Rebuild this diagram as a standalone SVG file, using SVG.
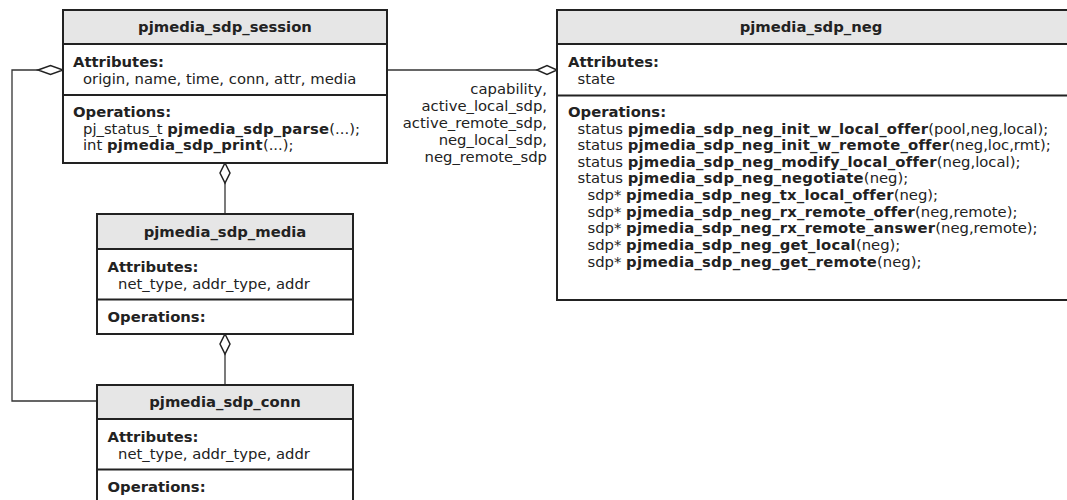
<svg xmlns="http://www.w3.org/2000/svg" width="1067" height="500" viewBox="0 0 1067 500">
<style>
text{font-family:"DejaVu Sans",Verdana,sans-serif;font-size:14.8px;fill:#222}
.b{font-weight:bold}
tspan.b{letter-spacing:0.22px}
.t{font-weight:bold;text-anchor:middle}
.box{fill:#fff;stroke:#222;stroke-width:2}
.hdr{fill:#e6e6e6;stroke:#222;stroke-width:2}
.sep{stroke:#222;stroke-width:2}
.conn{fill:none;stroke:#333;stroke-width:1.3}
.dia{fill:#fff;stroke:#222;stroke-width:1.5}
.lbl{text-anchor:end}
</style>
<rect width="1067" height="500" fill="#fff"/>
<g id="connectors">
  <polyline class="conn" points="38,70 12,70 12,401 97,401"/>
  <polygon class="dia" points="38,70 50.5,65.5 63,70 50.5,74.5"/>
  <line class="conn" x1="387" y1="70" x2="537" y2="70"/>
  <polygon class="dia" points="537,70 547,65.5 557,70 547,74.5"/>
  <line class="conn" x1="225" y1="183" x2="225" y2="214"/>
  <polygon class="dia" points="225,163 230,173 225,183 220,173"/>
  <line class="conn" x1="225" y1="354" x2="225" y2="385"/>
  <polygon class="dia" points="225,334 230,344 225,354 220,344"/>
  <text class="lbl" x="547" y="94">capability,</text>
  <text class="lbl" x="547" y="111">active_local_sdp,</text>
  <text class="lbl" x="547" y="128">active_remote_sdp,</text>
  <text class="lbl" x="547" y="145">neg_local_sdp,</text>
  <text class="lbl" x="547" y="162">neg_remote_sdp</text>
</g>
<g id="pjmedia_sdp_session">
  <rect class="box" x="63" y="10" width="324" height="153"/>
  <rect class="hdr" x="63" y="10" width="324" height="34"/>
  <line class="sep" x1="63" y1="95" x2="387" y2="95"/>
  <text class="t" x="225" y="32">pjmedia_sdp_session</text>
  <text class="b" x="73" y="67">Attributes:</text>
  <text x="83" y="83.5">origin, name, time, conn, attr, media</text>
  <text class="b" x="73" y="117">Operations:</text>
  <text x="83" y="133.5">pj_status_t <tspan class="b">pjmedia_sdp_parse</tspan>(...);</text>
  <text x="83" y="150">int <tspan class="b">pjmedia_sdp_print</tspan>(...);</text>
</g>
<g id="pjmedia_sdp_neg">
  <rect class="box" x="557" y="10" width="520" height="290"/>
  <rect class="hdr" x="557" y="10" width="520" height="34"/>
  <line class="sep" x1="557" y1="95.5" x2="1077" y2="95.5"/>
  <text class="t" x="811" y="32">pjmedia_sdp_neg</text>
  <text class="b" x="568" y="67">Attributes:</text>
  <text x="577.5" y="83.5">state</text>
  <text class="b" x="568" y="117">Operations:</text>
  <text x="577.5" y="133.5">status <tspan class="b">pjmedia_sdp_neg_init_w_local_offer</tspan>(pool,neg,local);</text>
  <text x="577.5" y="150">status <tspan class="b">pjmedia_sdp_neg_init_w_remote_offer</tspan>(neg,loc,rmt);</text>
  <text x="577.5" y="166.7">status <tspan class="b">pjmedia_sdp_neg_modify_local_offer</tspan>(neg,local);</text>
  <text x="577.5" y="183.3">status <tspan class="b">pjmedia_sdp_neg_negotiate</tspan>(neg);</text>
  <text x="587.5" y="200">sdp* <tspan class="b">pjmedia_sdp_neg_tx_local_offer</tspan>(neg);</text>
  <text x="587.5" y="216.7">sdp* <tspan class="b">pjmedia_sdp_neg_rx_remote_offer</tspan>(neg,remote);</text>
  <text x="587.5" y="233.3">sdp* <tspan class="b">pjmedia_sdp_neg_rx_remote_answer</tspan>(neg,remote);</text>
  <text x="587.5" y="250">sdp* <tspan class="b">pjmedia_sdp_neg_get_local</tspan>(neg);</text>
  <text x="587.5" y="266.7">sdp* <tspan class="b">pjmedia_sdp_neg_get_remote</tspan>(neg);</text>
</g>
<g id="pjmedia_sdp_media">
  <rect class="box" x="97" y="214" width="256" height="120"/>
  <rect class="hdr" x="97" y="214" width="256" height="35"/>
  <line class="sep" x1="97" y1="299.5" x2="353" y2="299.5"/>
  <text class="t" x="225" y="236.5">pjmedia_sdp_media</text>
  <text class="b" x="107.5" y="272">Attributes:</text>
  <text x="118" y="288.5">net_type, addr_type, addr</text>
  <text class="b" x="107.5" y="322">Operations:</text>
</g>
<g id="pjmedia_sdp_conn">
  <rect class="box" x="97" y="385" width="256" height="130"/>
  <rect class="hdr" x="97" y="385" width="256" height="34"/>
  <line class="sep" x1="97" y1="469.5" x2="353" y2="469.5"/>
  <text class="t" x="225" y="407">pjmedia_sdp_conn</text>
  <text class="b" x="107.5" y="442">Attributes:</text>
  <text x="118" y="458.5">net_type, addr_type, addr</text>
  <text class="b" x="107.5" y="492">Operations:</text>
</g>
</svg>
